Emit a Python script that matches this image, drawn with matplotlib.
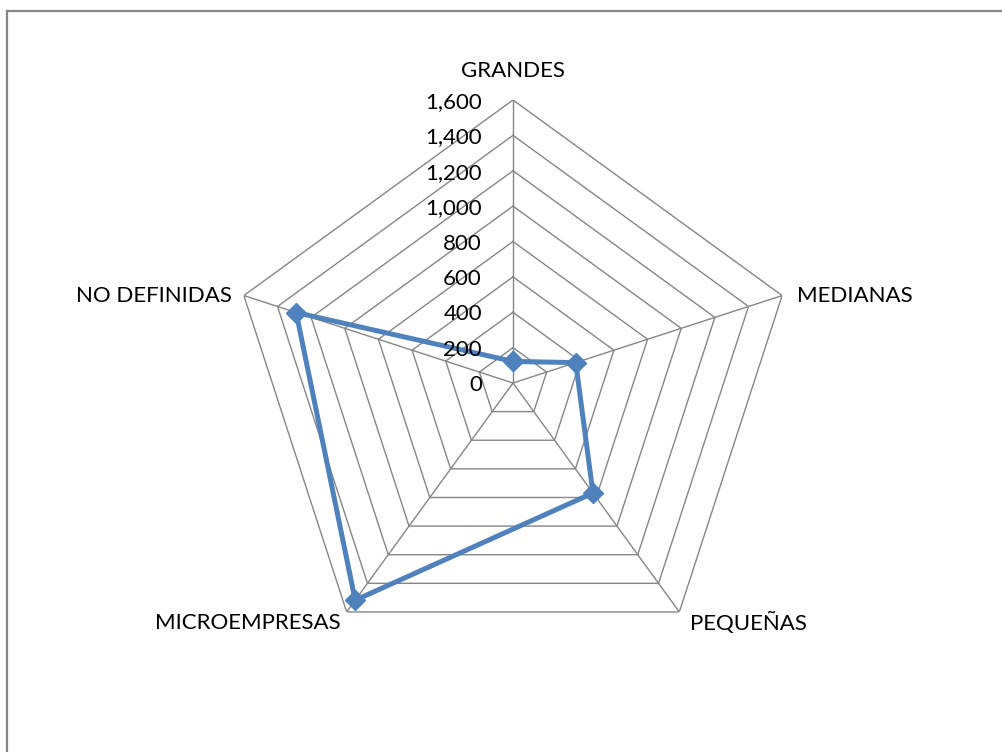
import numpy as np
import matplotlib
matplotlib.use("Agg")
import matplotlib.pyplot as plt
from matplotlib.lines import Line2D

# Company size categories and counts
categories = ["GRANDES", "MEDIANAS", "PEQUEÑAS", "MICROEMPRESAS", "NO DEFINIDAS"]
values = [122, 373, 769, 1518, 1289]
ticks = [0, 200, 400, 600, 800, 1000, 1200, 1400, 1600]
tick_labels = ["0", "200", "400", "600", "800", "1,000", "1,200", "1,400", "1,600"]

plt.rcParams["font.family"] = ["Lato", "DejaVu Sans"]

W, H = 1003, 752
fig = plt.figure(figsize=(W / 100, H / 100), dpi=100)

cx, cy, R = 513, 383, 283
ax = fig.add_axes([(cx - R) / W, 1 - (cy + R) / H, 2 * R / W, 2 * R / H],
                  projection="polar")
ax.set_theta_offset(np.pi / 2)
ax.set_theta_direction(-1)
ax.set_ylim(0, ticks[-1])
ax.grid(False)
ax.spines["polar"].set_visible(False)
ax.set_xticks([])
ax.set_yticks([])
ax.patch.set_visible(False)

n = len(categories)
angles = np.arange(n) * 2 * np.pi / n
closed = np.append(angles, angles[0])

grid_color = "#868686"
# polygon grid rings
for t in ticks[1:]:
    ax.plot(closed, [t] * (n + 1), color=grid_color, lw=1.0, zorder=1)
# spokes
for a in angles:
    ax.plot([a, a], [0, ticks[-1]], color=grid_color, lw=1.0, zorder=1)

# data series
ax.plot(closed, values + values[:1], color="#4F81BD", lw=3.6,
        marker="D", markersize=10, zorder=3, clip_on=False)

# radial tick labels along the top spoke
for t, lab in zip(ticks, tick_labels):
    ax.annotate(lab, xy=(0, t), xytext=(-31, -2), textcoords="offset pixels",
                ha="right", va="center", fontsize=16, color="black",
                annotation_clip=False)

# category labels
label_offsets = [(0, 29, "center", "center"),
                 (15, 0, "left", "center"),
                 (11, -11, "left", "center"),
                 (-6, -11, "right", "center"),
                 (-12, 0, "right", "center")]
for a, name, (dx, dy, ha, va) in zip(angles, categories, label_offsets):
    ax.annotate(name, xy=(a, ticks[-1]), xytext=(dx, dy),
                textcoords="offset pixels", ha=ha, va=va, fontsize=16,
                color="black", annotation_clip=False)

# chart frame (top and left edges)
frame_color = "#868686"
fig.add_artist(Line2D([7.5 / W, 1.0], [1 - 11 / H, 1 - 11 / H],
                      transform=fig.transFigure, color=frame_color, lw=1.6))
fig.add_artist(Line2D([7.5 / W, 7.5 / W], [0, 1 - 11 / H],
                      transform=fig.transFigure, color=frame_color, lw=1.6))

fig.savefig("out.png", dpi=100, facecolor="white")
